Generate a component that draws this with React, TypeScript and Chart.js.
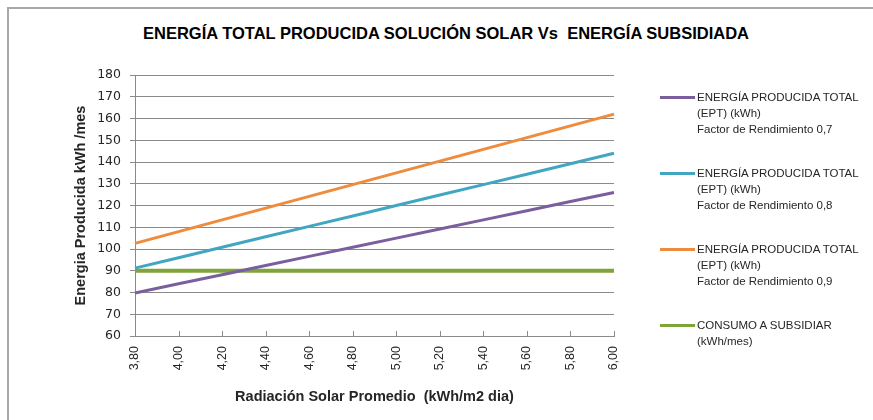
import React, { useEffect, useRef } from "react";
import { Chart, registerables } from "chart.js";

Chart.register(...registerables);

const chartTitle = "ENERGÍA TOTAL PRODUCIDA SOLUCIÓN SOLAR Vs  ENERGÍA SUBSIDIADA";
const xAxisTitle = "Radiación Solar Promedio  (kWh/m2 dia)";
const yAxisTitle = "Energia Producida kWh /mes";

const radiationLabels = ["3,80", "4,00", "4,20", "4,40", "4,60", "4,80", "5,00", "5,20", "5,40", "5,60", "5,80", "6,00"];

const eptFactor07 = [79.8, 84, 88.2, 92.4, 96.6, 100.8, 105, 109.2, 113.4, 117.6, 121.8, 126];
const eptFactor08 = [91.2, 96, 100.8, 105.6, 110.4, 115.2, 120, 124.8, 129.6, 134.4, 139.2, 144];
const eptFactor09 = [102.6, 108, 113.4, 118.8, 124.2, 129.6, 135, 140.4, 145.8, 151.2, 156.6, 162];
const consumoSubsidiar = [90, 90, 90, 90, 90, 90, 90, 90, 90, 90, 90, 90];

const yMin = 60;
const yMax = 180;
const yStep = 10;

const seriesNames: string[][] = [
  ["ENERGÍA PRODUCIDA TOTAL", "(EPT) (kWh)", "Factor de Rendimiento 0,7"],
  ["ENERGÍA PRODUCIDA TOTAL", "(EPT) (kWh)", "Factor de Rendimiento 0,8"],
  ["ENERGÍA PRODUCIDA TOTAL", "(EPT) (kWh)", "Factor de Rendimiento 0,9"],
  ["CONSUMO A SUBSIDIAR", "(kWh/mes)"],
];
const seriesData = [eptFactor07, eptFactor08, eptFactor09, consumoSubsidiar];

const seriesColors = ["#7B5E9E", "#40A6C2", "#EE8B3C", "#7FA43A"];
const seriesWidths = [3, 3, 3, 4];

const gridColor = "#8a8a8a";
const textColor = "#262626";

const innerTicks = {
  id: "innerTicks",
  beforeDatasetsDraw(chart: any) {
    const xs = chart.scales.x;
    const ctx = chart.ctx;
    ctx.save();
    ctx.strokeStyle = gridColor;
    ctx.lineWidth = 1;
    ctx.beginPath();
    for (let i = 0; i < xs.ticks.length; i++) {
      const px = Math.round(xs.getPixelForTick(i)) + 0.5;
      ctx.moveTo(px, xs.top);
      ctx.lineTo(px, xs.top - 5);
    }
    ctx.stroke();
    ctx.restore();
  },
};

export default function App() {
  const canvasRef = useRef<HTMLCanvasElement | null>(null);

  useEffect(() => {
    if (!canvasRef.current) return;
    const chart = new Chart(canvasRef.current, {
      type: "line",
      data: {
        labels: radiationLabels,
        datasets: seriesData.map((d, i) => ({
          label: seriesNames[i].join(" "),
          data: d,
          borderColor: seriesColors[i],
          backgroundColor: seriesColors[i],
          borderWidth: seriesWidths[i],
          pointRadius: 0,
          tension: 0,
          fill: false,
        })),
      },
      options: {
        responsive: false,
        animation: false,
        layout: { padding: { left: 60, right: 259, top: 75, bottom: 10 } },
        plugins: {
          legend: { display: false },
          title: { display: false },
          tooltip: { enabled: false },
        },
        scales: {
          x: {
            type: "category",
            offset: false,
            afterFit: (s: any) => {
              s.height = 74;
            },
            grid: { drawOnChartArea: false, drawTicks: false, color: gridColor },
            border: { display: true, color: gridColor, width: 1 },
            ticks: {
              autoSkip: false,
              minRotation: 90,
              maxRotation: 90,
              padding: 10,
              color: textColor,
              font: { family: "'Liberation Sans', Arial, sans-serif", size: 12.5 },
            },
            title: {
              display: true,
              text: xAxisTitle,
              color: textColor,
              padding: { top: 4, bottom: 4 },
              font: { family: "'Liberation Sans', Arial, sans-serif", size: 14.5, weight: "bold" },
            },
          },
          y: {
            min: yMin,
            max: yMax,
            afterFit: (s: any) => {
              s.width = 75;
            },
            grid: { color: gridColor, tickLength: 5, lineWidth: 1 },
            border: { display: true, color: gridColor, width: 1 },
            ticks: {
              stepSize: yStep,
              padding: 9,
              color: textColor,
              font: { family: "'DejaVu Sans', sans-serif", size: 12.5 },
            },
            title: {
              display: true,
              text: yAxisTitle,
              color: textColor,
              padding: { top: 12, bottom: 4 },
              font: { family: "'Liberation Sans', Arial, sans-serif", size: 14.5, weight: "bold" },
            },
          },
        },
      },
      plugins: [innerTicks],
    });
    return () => chart.destroy();
  }, []);

  return (
    <div style={{ position: "absolute", left: 0, top: 0, width: 873, height: 420, background: "#fff", overflow: "hidden" }}>
      <div
        style={{
          position: "absolute",
          left: 7,
          top: 7,
          width: 900,
          height: 450,
          borderTop: "2px solid #a8a8a8",
          borderLeft: "2px solid #a8a8a8",
        }}
      />
      <div
        style={{
          position: "absolute",
          left: 0,
          top: 23,
          width: 892,
          textAlign: "center",
          whiteSpace: "pre",
          fontFamily: "'Liberation Sans', Arial, sans-serif",
          fontWeight: "bold",
          fontSize: 16.5,
          lineHeight: "20px",
          color: "#000",
        }}
      >
        {chartTitle}
      </div>
      <canvas ref={canvasRef} width={873} height={420} style={{ position: "absolute", left: 0, top: 0 }} />
      <div style={{ position: "absolute", left: 660, top: 89 }}>
        {seriesNames.map((lines, i) => (
          <div key={i} style={{ position: "absolute", left: 0, top: i * 76, display: "flex", alignItems: "flex-start" }}>
            <div style={{ width: 35, height: 3, marginTop: 7, background: seriesColors[i], flex: "none" }} />
            <div
              style={{
                marginLeft: 2,
                fontFamily: "'Liberation Sans', Arial, sans-serif",
                fontSize: 11.5,
                lineHeight: "16px",
                color: textColor,
                whiteSpace: "nowrap",
              }}
            >
              {lines.map((t, j) => (
                <div key={j}>{t}</div>
              ))}
            </div>
          </div>
        ))}
      </div>
    </div>
  );
}
